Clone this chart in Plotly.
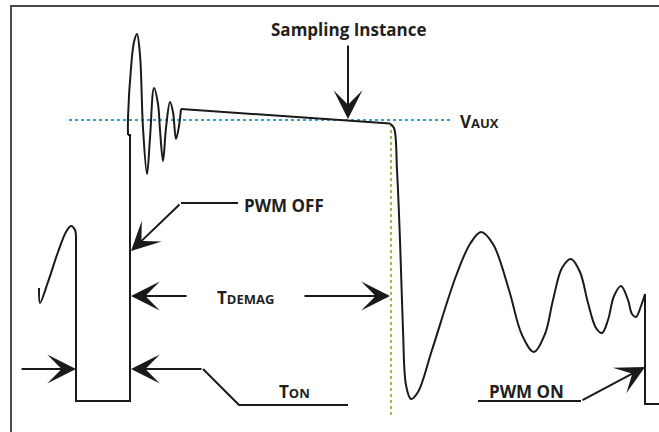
import plotly.graph_objects as go

# ---- diagram data (pixel-space coordinates of the 659x432 page, y downward) ----
frame_x = [11, 11, 659]
frame_y = [432, 6, 6]

# left end of previous cycle (curved tail)
tail_x = [39, 40, 48, 58, 66, 71, 75, 76]
tail_y = [288, 303, 282, 252, 232, 226, 230, 238]

# Ton pulse (linear)
pulse_x = [76, 76, 130, 130, 128]
pulse_y = [238, 401, 401, 135, 135]

# ringing after PWM OFF (spline)
ring_x = [128, 128, 131, 134, 137, 140, 143, 147, 150, 154, 158, 160, 163, 166, 170, 173, 176, 179, 181]
ring_y = [135, 118, 68, 42, 34, 55, 128, 174, 138, 88, 104, 130, 161, 128, 102, 112, 139, 126, 109]

# demagnetising plateau (linear)
plat_x = [181, 390]
plat_y = [109, 123.5]

# fall and resonant ringing (spline)
fall_x = [390, 394, 397, 400, 403, 406, 411, 418, 432, 456, 470, 481, 493, 509, 522, 534, 545, 553, 562, 571, 580, 588, 596, 602, 608, 614, 621, 628, 632, 636, 641, 645]
fall_y = [123.5, 128, 170, 240, 330, 385, 399, 392, 350, 276, 244, 232, 244, 290, 335, 352, 334, 300, 268, 259, 272, 303, 328, 333, 320, 296, 286, 300, 314, 317, 306, 294]

# next PWM ON edge (linear)
edge_x = [645, 645, 659]
edge_y = [294, 404, 404]

# reference lines
vaux_x = [69, 452]
vaux_y = [120, 120]
tdem_x = [391, 391]
tdem_y = [124, 418]

# leader polylines (no arrowhead part)
leaders = [
    ([238, 181], [203, 203]),            # PWM OFF
    ([348, 239, 203], [405, 405, 369]),  # TON right
    ([478, 581], [401, 401]),            # PWM ON
]

# arrows: (tail_x, tail_y, tip_x, tip_y)
arrows = [
    (348, 44, 348, 119),   # sampling instance
    (181, 203, 131, 251),  # PWM OFF
    (188, 296, 131, 296),  # Tdemag left
    (303, 296, 390, 296),  # Tdemag right
    (20, 369, 76, 369),    # Ton left
    (203, 369, 131, 369),  # Ton right
    (581, 401, 645, 367),  # PWM ON
]

# labels: (text, x, y, anchor)
labels = [
    ("Sampling Instance", 349, 29, "center"),
    ("V<span style='font-size:13px'>AUX</span>", 458, 121, "left"),
    ("PWM OFF", 242, 205, "left"),
    ("T<span style='font-size:13px'>DEMAG</span>", 215, 297, "left"),
    ("T<span style='font-size:13px'>ON</span>", 277, 391, "left"),
    ("PWM ON", 487, 391, "left"),
]

INK = "#1a1a1a"
fig = go.Figure()

fig.add_trace(go.Scatter(x=frame_x, y=frame_y, mode="lines",
                         line=dict(color="#4d4946", width=2)))
fig.add_trace(go.Scatter(x=vaux_x, y=vaux_y, mode="lines",
                         line=dict(color="#27a4dd", width=2.2, dash="dot")))
fig.add_trace(go.Scatter(x=tdem_x, y=tdem_y, mode="lines",
                         line=dict(color="#8dc63f", width=2, dash="dot")))

for xs, ys, shape in [(tail_x, tail_y, "spline"), (pulse_x, pulse_y, "linear"),
                      (ring_x, ring_y, "spline"), (plat_x, plat_y, "linear"),
                      (fall_x, fall_y, "spline"), (edge_x, edge_y, "linear")]:
    fig.add_trace(go.Scatter(x=xs, y=ys, mode="lines",
                             line=dict(color=INK, width=2, shape=shape, smoothing=1)))

for xs, ys in leaders:
    fig.add_trace(go.Scatter(x=xs, y=ys, mode="lines",
                             line=dict(color=INK, width=2)))

for ax_, ay_, x_, y_ in arrows:
    fig.add_annotation(x=x_, y=y_, ax=ax_, ay=ay_, xref="x", yref="y",
                       axref="x", ayref="y", text="", showarrow=True,
                       arrowhead=3, arrowsize=2.4, arrowwidth=2,
                       arrowcolor=INK, standoff=0)

for t, x_, y_, anc in labels:
    fig.add_annotation(x=x_, y=y_, xref="x", yref="y", text="<b>%s</b>" % t,
                       showarrow=False, xanchor=anc, yanchor="middle",
                       font=dict(family="Open Sans", size=17, color="#231f20"))

fig.update_layout(
    width=659, height=432, margin=dict(l=0, r=0, t=0, b=0),
    paper_bgcolor="white", plot_bgcolor="white", showlegend=False,
    hovermode=False,
    xaxis=dict(range=[0, 659], visible=False, fixedrange=True),
    yaxis=dict(range=[432, 0], visible=False, fixedrange=True),
)

fig.write_html("out.html", config={"displayModeBar": False, "staticPlot": True},
               post_script="document.body.style.margin='0';document.body.style.overflow='hidden';")
